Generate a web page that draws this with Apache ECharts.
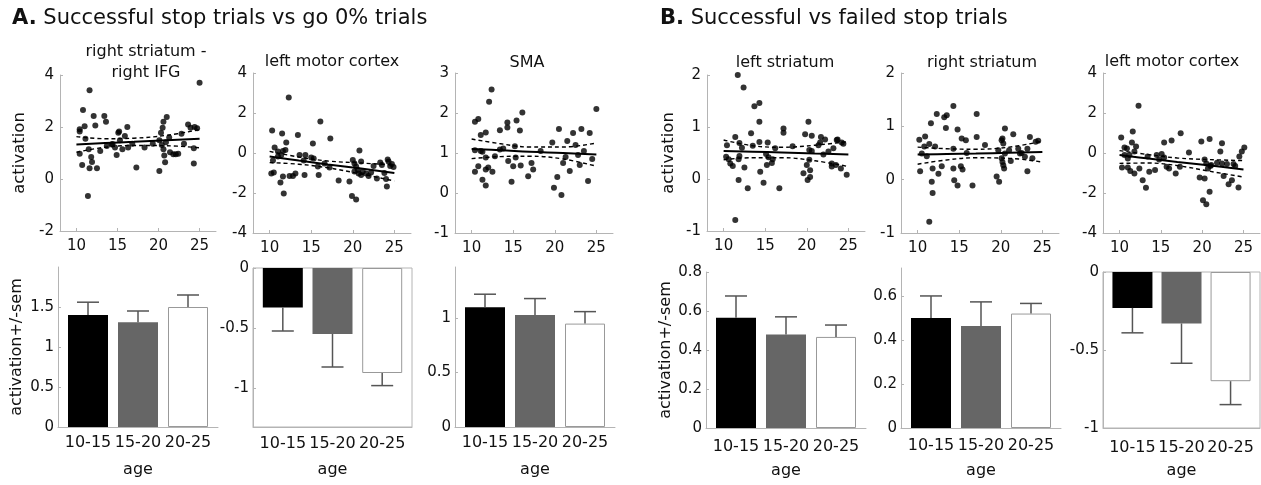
<!DOCTYPE html>
<html>
<head>
<meta charset="utf-8">
<title>activation by age</title>
<script src="https://cdn.jsdelivr.net/npm/echarts@6.0.0/dist/echarts.min.js"></script>
<style>
  html, body { margin: 0; padding: 0; background: #fff; }
  #chart { width: 1261px; height: 485px; }
</style>
</head>
<body>
<div id="chart"></div>
<script>
// ---- data ----
var ageTicks = [10, 15, 20, 25];
var ageGroups = ['10-15', '15-20', '20-25'];
var fitAge = [10, 13.5, 17, 21, 25];

// A. successful stop trials vs go 0% trials
var rStrIfgPts = [[11.6,3.41],[10.8,2.65],[13.4,2.42],[12.1,2.42],[13.6,2.2],[12.3,2.06],[11.0,2.03],[10.4,1.91],[10.4,1.83],[15.1,1.78],[15.2,1.83],[16.2,2.0],[15.9,1.65],[11.1,1.55],[10.4,0.97],[10.7,0.54],[11.6,0.41],[12.5,0.41],[11.8,0.85],[11.9,0.65],[11.4,-0.65],[11.5,1.14],[12.9,1.08],[13.7,1.27],[14.3,1.33],[14.7,1.21],[14.9,0.92],[15.3,1.49],[15.6,1.14],[16.3,1.21],[16.8,1.36],[17.3,0.44],[18.3,1.21],[19.3,1.36],[20.1,0.31],[20.1,1.49],[20.3,1.78],[20.5,1.97],[20.6,2.2],[21.0,2.38],[20.4,1.31],[20.6,1.14],[20.7,0.9],[20.8,0.64],[20.9,1.41],[21.4,1.03],[21.8,0.95],[22.1,0.95],[22.4,0.97],[22.8,1.74],[23.1,1.36],[23.6,2.1],[23.9,1.97],[24.4,2.0],[24.7,1.95],[24.3,1.18],[24.3,0.6],[25.0,3.7],[21.3,1.6],[14.4,1.35]];
var rStrIfgFit = [1.33, 1.38, 1.43, 1.49, 1.55];
var rStrIfgUp = [1.63, 1.55, 1.57, 1.68, 1.9];
var rStrIfgLo = [1.03, 1.22, 1.29, 1.28, 1.2];
var rStrIfgBar = [1.40, 1.31, 1.50];
var rStrIfgErr = [1.56, 1.45, 1.65];

var lMotorGoPts = [[12.3,2.77],[10.3,1.12],[16.1,1.57],[17.3,0.72],[11.5,0.98],[13.4,0.9],[12.0,0.53],[15.2,0.48],[10.6,0.28],[11.9,0.15],[11.6,0.1],[11.0,0.07],[20.8,0.12],[10.4,-0.38],[11.0,-0.18],[11.4,-0.1],[13.6,-0.1],[14.3,-0.1],[15.0,-0.22],[15.3,-0.27],[14.1,-0.38],[15.8,-0.68],[15.9,-1.1],[17.2,-0.72],[16.6,-0.52],[10.5,-0.98],[10.2,-1.02],[11.3,-1.47],[11.6,-1.18],[12.4,-1.15],[12.8,-1.15],[13.1,-1.02],[14.2,-1.1],[11.7,-2.02],[18.3,-1.38],[19.6,-1.43],[19.9,-2.15],[20.4,-2.32],[20.0,-0.35],[20.2,-0.52],[20.4,-0.68],[20.6,-0.85],[20.2,-0.93],[20.7,-1.02],[21.0,-1.1],[21.2,-0.93],[21.6,-1.02],[22.2,-0.98],[21.9,-1.15],[22.9,-1.27],[21.0,-0.43],[23.3,-0.48],[24.2,-0.32],[24.5,-0.65],[24.7,-0.55],[24.1,-1.68],[24.3,-0.43],[23.5,-0.6],[23.8,-1.0],[22.5,-0.65],[24.0,-1.3],[24.9,-0.7]];
var lMotorGoFit = [-0.18, -0.38, -0.57, -0.78, -1.0];
var lMotorGoUp = [0.08, -0.2, -0.4, -0.5, -0.6];
var lMotorGoLo = [-0.48, -0.56, -0.74, -1.05, -1.4];
var lMotorGoBar = [-0.33, -0.55, -0.875];
var lMotorGoErr = [-0.525, -0.825, -0.98];

var smaPts = [[12.4,2.59],[12.1,2.28],[10.4,1.78],[10.8,1.85],[11.1,1.45],[11.7,1.51],[13.4,1.57],[14.3,1.64],[14.3,1.76],[15.4,1.81],[16.1,2.01],[15.8,1.56],[10.4,1.07],[11.1,1.05],[11.3,1.03],[13.4,1.09],[13.8,1.11],[15.2,1.17],[11.7,0.89],[12.8,0.92],[15.3,0.89],[10.8,0.67],[12.0,0.64],[11.7,0.59],[10.4,0.53],[12.5,0.53],[14.4,0.8],[15.0,0.67],[15.9,0.69],[17.2,0.75],[17.4,0.59],[16.8,0.42],[14.8,0.28],[11.3,0.33],[11.7,0.19],[18.3,1.05],[19.7,1.26],[19.9,0.13],[20.5,1.6],[21.0,0.75],[21.3,0.9],[21.8,0.55],[22.2,1.5],[22.5,1.2],[23.0,0.7],[23.5,1.05],[24.0,0.3],[24.2,1.5],[24.5,0.85],[25.0,2.1],[20.3,0.4],[20.8,-0.05],[21.5,1.3],[23.2,1.6],[22.8,0.95]];
var smaFit = [1.10, 1.07, 1.03, 1.0, 0.96];
var smaUp = [1.35, 1.23, 1.15, 1.15, 1.25];
var smaLo = [0.86, 0.91, 0.92, 0.85, 0.67];
var smaBar = [1.10, 1.03, 0.95];
var smaErr = [1.22, 1.18, 1.06];

// B. successful vs failed stop trials
var lStrPts = [[11.7,2.0],[12.4,1.76],[13.7,1.40],[14.3,1.46],[14.3,1.10],[13.3,0.88],[17.2,0.97],[17.2,0.89],[11.4,0.81],[10.4,0.65],[10.3,0.43],[10.6,0.38],[10.8,0.30],[11.1,0.25],[11.9,0.69],[12.2,0.6],[11.9,0.44],[11.8,0.38],[12.5,0.22],[11.8,-0.02],[12.9,-0.18],[11.4,-0.79],[13.5,0.64],[14.3,0.71],[15.3,0.7],[14.4,0.14],[14.8,-0.07],[15.1,0.48],[15.4,0.42],[15.2,0.27],[15.8,0.31],[15.9,0.38],[16.2,0.59],[16.7,-0.18],[18.3,0.63],[19.8,0.86],[20.2,1.10],[20.6,0.83],[19.6,0.11],[20.0,0.27],[20.3,0.37],[20.1,-0.02],[20.4,0.17],[20.4,0.04],[20.3,0.56],[20.6,0.54],[21.4,0.65],[21.7,0.81],[22.2,0.76],[21.6,0.7],[22.6,0.53],[23.0,0.24],[22.0,0.47],[23.6,0.75],[23.7,0.76],[24.2,0.70],[24.4,0.68],[23.5,0.27],[24.1,0.2],[24.8,0.08],[23.0,0.3],[23.2,0.59]];
var lStrFit = [0.54, 0.525, 0.51, 0.49, 0.47];
var lStrUp = [0.75, 0.64, 0.61, 0.65, 0.72];
var lStrLo = [0.37, 0.41, 0.41, 0.35, 0.24];
var lStrBar = [0.565, 0.48, 0.467];
var lStrErr = [0.677, 0.57, 0.528];

var rStrPts = [[10.2,0.75],[10.9,0.81],[10.3,0.16],[10.5,0.49],[10.8,0.62],[11.1,0.44],[11.6,1.06],[11.8,0.21],[11.7,-0.04],[11.8,-0.25],[11.4,-0.79],[12.3,1.23],[12.5,0.11],[12.1,0.62],[11.4,0.67],[12.9,0.25],[13.2,1.17],[13.5,1.21],[13.4,0.97],[14.3,1.38],[14.8,0.94],[14.3,0.58],[14.3,0.21],[14.4,-0.01],[14.8,-0.11],[15.2,0.25],[15.4,0.19],[15.3,0.77],[15.8,0.74],[15.9,0.5],[16.6,-0.11],[17.1,0.8],[17.1,1.23],[18.1,0.65],[19.5,0.06],[19.8,-0.04],[19.7,0.55],[20.1,0.74],[20.2,0.77],[20.3,0.68],[20.1,0.4],[20.2,0.33],[20.3,0.27],[20.4,0.21],[20.5,0.96],[20.5,0.49],[22.1,0.58],[23.5,0.80],[24.2,0.71],[24.5,0.73],[22.9,0.43],[22.5,0.5],[23.8,0.4],[23.2,0.16],[23.2,0.58],[22.3,0.49],[21.0,0.55],[21.5,0.85],[21.2,0.35]];
var rStrFit = [0.47, 0.48, 0.49, 0.505, 0.52];
var rStrUp = [0.61, 0.58, 0.57, 0.61, 0.72];
var rStrLo = [0.29, 0.37, 0.41, 0.4, 0.33];
var rStrBar = [0.50, 0.464, 0.52];
var rStrErr = [0.60, 0.573, 0.566];

var lMotorPts = [[12.3,2.36],[10.2,0.77],[11.6,1.07],[10.6,0.28],[10.9,0.22],[11.5,0.52],[12.0,0.32],[11.8,0.07],[10.6,-0.1],[11.0,-0.27],[11.2,-0.1],[10.3,-0.72],[11.0,-0.72],[11.3,-0.9],[11.8,-1.02],[12.4,-0.77],[12.8,-1.36],[13.2,-1.74],[13.6,-0.94],[14.3,-0.85],[13.4,-0.18],[14.5,-0.1],[14.8,-0.32],[15.4,0.52],[15.1,-0.05],[15.4,-0.22],[15.7,-0.69],[16.3,0.62],[16.0,-0.77],[16.8,-1.02],[17.3,-0.69],[17.4,0.99],[18.4,0.02],[19.9,0.57],[20.9,0.7],[19.7,-1.22],[20.3,-1.27],[20.1,-2.36],[20.5,-2.56],[20.9,-1.94],[20.3,-0.32],[20.5,-0.52],[20.7,-0.77],[21.0,-0.65],[21.8,-0.49],[22.4,0.49],[22.2,0.07],[22.4,-0.52],[22.6,-1.15],[23.2,-1.56],[23.6,-1.36],[24.0,-0.65],[24.4,-1.72],[24.5,-0.18],[24.8,0.07],[25.1,0.28],[23.8,-0.55],[23.0,-0.55],[21.1,-0.6]];
var lMotorFit = [-0.1, -0.28, -0.45, -0.63, -0.82];
var lMotorUp = [0.12, -0.08, -0.25, -0.33, -0.38];
var lMotorLo = [-0.52, -0.5, -0.63, -0.92, -1.2];
var lMotorBar = [-0.23, -0.33, -0.70];
var lMotorErr = [-0.39, -0.585, -0.85];

// ---- layout ----
var axisGray = '#b4b4b4';
var txt = '#111';
var barStyles = [
  { color: '#000' },
  { color: '#666' },
  { color: '#fff', borderColor: '#999', borderWidth: 1 }
];

var panels = [
  { name: 'right striatum -\nright IFG', tx: 146, ty: 41, pts: rStrIfgPts, fit: rStrIfgFit, up: rStrIfgUp, lo: rStrIfgLo,
    yr: [-2, 4], yt: [-2, 0, 2, 4], bar: rStrIfgBar, err: rStrIfgErr, br: [0, 2], bt: [0, 0.5, 1, 1.5],
    sc: { left: 60, top: 75, width: 156, height: 156 }, bg: { left: 58, top: 267, width: 160, height: 160 },
    lab: true, gapS: 32, gapB: 33, box: false, m: 8 },
  { name: 'left motor cortex', tx: 332, ty: 51, pts: lMotorGoPts, fit: lMotorGoFit, up: lMotorGoUp, lo: lMotorGoLo,
    yr: [-4, 4], yt: [-4, -2, 0, 2, 4], bar: lMotorGoBar, err: lMotorGoErr, br: [-1.325, 0], bt: [-1, -0.5, 0],
    sc: { left: 253, top: 73, width: 158, height: 160 }, bg: { left: 253, top: 268, width: 159, height: 159 },
    lab: false, box: true, m: 9 },
  { name: 'SMA', tx: 527, ty: 52, pts: smaPts, fit: smaFit, up: smaUp, lo: smaLo,
    yr: [-1, 3], yt: [-1, 0, 1, 2, 3], bar: smaBar, err: smaErr, br: [0, 1.47], bt: [0, 0.5, 1],
    sc: { left: 455, top: 73, width: 158, height: 160 }, bg: { left: 455, top: 267, width: 160, height: 160 },
    lab: false, box: false, m: 8 },
  { name: 'left striatum', tx: 785, ty: 52, pts: lStrPts, fit: lStrFit, up: lStrUp, lo: lStrLo,
    yr: [-1, 2], yt: [-1, 0, 1, 2], bar: lStrBar, err: lStrErr, br: [0, 0.8], bt: [0, 0.2, 0.4, 0.6, 0.8],
    sc: { left: 707, top: 75, width: 158, height: 156 }, bg: { left: 706, top: 272, width: 160, height: 156 },
    lab: true, gapS: 30, gapB: 29, box: false, m: 11 },
  { name: 'right striatum', tx: 982, ty: 52, pts: rStrPts, fit: rStrFit, up: rStrUp, lo: rStrLo,
    yr: [-1, 2], yt: [-1, 0, 1, 2], bar: rStrBar, err: rStrErr, br: [0, 0.727], bt: [0, 0.2, 0.4, 0.6],
    sc: { left: 901, top: 73, width: 158, height: 160 }, bg: { left: 901, top: 268, width: 160, height: 160 },
    lab: false, box: false, m: 10 },
  { name: 'left motor cortex', tx: 1172, ty: 51, pts: lMotorPts, fit: lMotorFit, up: lMotorUp, lo: lMotorLo,
    yr: [-4, 4], yt: [-4, -2, 0, 2, 4], bar: lMotorBar, err: lMotorErr, br: [-1, 0], bt: [-1, -0.5, 0],
    sc: { left: 1103, top: 73, width: 157, height: 160 }, bg: { left: 1103, top: 272, width: 157, height: 156 },
    lab: false, box: true, m: 12 }
];

function axisBase(gi) {
  return {
    gridIndex: gi,
    axisLine: { onZero: false, lineStyle: { color: axisGray, width: 1 } },
    axisTick: { inside: true, length: 3, lineStyle: { color: axisGray } },
    splitLine: { show: false },
    axisLabel: { color: txt, fontSize: 15 }
  };
}

function pairs(xs, ys) {
  return xs.map(function (x, k) { return [x, ys[k]]; });
}

function renderErr(params, api) {
  var p0 = api.coord([api.value(0), api.value(1)]);
  var p1 = api.coord([api.value(0), api.value(2)]);
  var st = { stroke: '#555', lineWidth: 1.5 };
  return {
    type: 'group',
    children: [
      { type: 'line', shape: { x1: p0[0], y1: p0[1], x2: p1[0], y2: p1[1] }, style: st },
      { type: 'line', shape: { x1: p1[0] - 11, y1: p1[1], x2: p1[0] + 11, y2: p1[1] }, style: st }
    ]
  };
}

var headStyle = { fontSize: 21, fontWeight: 'normal', color: '#111', rich: { b: { fontSize: 21, fontWeight: 'bold', color: '#111' } } };

var option = {
  animation: false,
  textStyle: { fontFamily: 'DejaVu Sans' },
  title: [
    { text: '{b|A.} Successful stop trials vs go 0% trials', left: 12, top: 8, padding: 0, textStyle: headStyle },
    { text: '{b|B.} Successful vs failed stop trials', left: 660, top: 8, padding: 0, textStyle: headStyle }
  ],
  grid: [], xAxis: [], yAxis: [], series: []
};

panels.forEach(function (p, i) {
  var s = i * 2, b = i * 2 + 1;

  option.title.push({
    text: p.name, left: p.tx, top: p.ty, textAlign: 'center', padding: 0,
    textStyle: { fontSize: 16, fontWeight: 'normal', color: txt, lineHeight: 21, align: 'center' }
  });

  option.grid.push(Object.assign({ show: false }, p.sc));
  option.grid.push(Object.assign({ show: p.box, borderColor: axisGray, borderWidth: 1, backgroundColor: 'transparent' }, p.bg));

  // scatter axes
  var sx = axisBase(s);
  sx.type = 'value'; sx.min = 8; sx.max = 27;
  sx.axisLabel.customValues = ageTicks; sx.axisLabel.margin = 8;
  sx.axisTick.customValues = ageTicks;
  option.xAxis.push(sx);

  var sy = axisBase(s);
  sy.type = 'value'; sy.min = p.yr[0]; sy.max = p.yr[1];
  sy.axisLabel.customValues = p.yt; sy.axisLabel.margin = 6;
  sy.axisTick.customValues = p.yt;
  if (p.lab) {
    sy.name = 'activation'; sy.nameLocation = 'middle'; sy.nameRotate = 90; sy.nameGap = p.gapS;
    sy.nameTextStyle = { fontSize: 16.5, color: txt };
  }
  option.yAxis.push(sy);

  // bar axes
  var bx = axisBase(b);
  bx.type = 'value'; bx.min = 0.4; bx.max = 3.6;
  bx.axisLabel.customValues = [1, 2, 3]; bx.axisLabel.fontSize = 16; bx.axisLabel.margin = p.m;
  bx.axisLabel.formatter = function (v) { return ageGroups[Math.round(v) - 1]; };
  bx.axisTick.show = false;
  bx.name = 'age'; bx.nameLocation = 'middle'; bx.nameGap = 35;
  bx.nameTextStyle = { fontSize: 16, color: txt };
  option.xAxis.push(bx);

  var by = axisBase(b);
  by.type = 'value'; by.min = p.br[0]; by.max = p.br[1];
  by.axisLabel.customValues = p.bt; by.axisLabel.fontSize = 15; by.axisLabel.margin = 4;
  by.axisTick.customValues = p.bt;
  if (p.lab) {
    by.name = 'activation+/-sem'; by.nameLocation = 'middle'; by.nameRotate = 90; by.nameGap = p.gapB;
    by.nameTextStyle = { fontSize: 16, color: txt };
  }
  option.yAxis.push(by);

  option.series.push({
    type: 'scatter', xAxisIndex: s, yAxisIndex: s, data: p.pts,
    symbolSize: 6, itemStyle: { color: '#000' }
  });
  option.series.push({
    type: 'line', xAxisIndex: s, yAxisIndex: s, data: pairs(fitAge, p.fit), smooth: 0.4,
    showSymbol: false, lineStyle: { color: '#000', width: 2 }, z: 4
  });
  [p.up, p.lo].forEach(function (band) {
    option.series.push({
      type: 'line', xAxisIndex: s, yAxisIndex: s, data: pairs(fitAge, band), smooth: 0.4,
      showSymbol: false, lineStyle: { color: '#000', width: 1.4, type: [4, 3] }, z: 4
    });
  });

  option.series.push({
    type: 'bar', xAxisIndex: b, yAxisIndex: b, barWidth: 40,
    data: p.bar.map(function (v, k) { return { value: [k + 1, v], itemStyle: barStyles[k] }; })
  });
  option.series.push({
    type: 'custom', xAxisIndex: b, yAxisIndex: b, z: 5,
    renderItem: renderErr, encode: { x: 0, y: [1, 2] },
    data: p.bar.map(function (v, k) { return [k + 1, v, p.err[k]]; })
  });
});

var chart = echarts.init(document.getElementById('chart'), null, { renderer: 'canvas' });
chart.setOption(option);
</script>
</body>
</html>
